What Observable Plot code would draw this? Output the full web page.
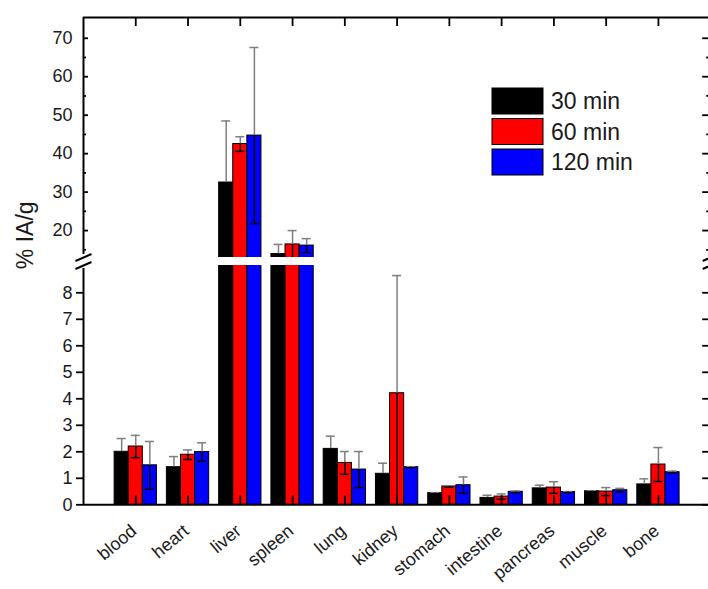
<!DOCTYPE html>
<html><head><meta charset="utf-8">
<script src="https://cdn.jsdelivr.net/npm/d3@7"></script>
<script src="https://cdn.jsdelivr.net/npm/@observablehq/plot@0.6"></script>
<style>
html,body{margin:0;padding:0;background:#fff;overflow:hidden;}
#chart{width:708px;height:589px;}
#chart svg{display:block;}
</style>
</head><body><div id="chart"></div>
<script>
// ---------- data ----------
const organs = ["blood","heart","liver","spleen","lung","kidney","stomach","intestine","pancreas","muscle","bone"];
const series = ["30 min","60 min","120 min"];
const seriesColors = ["#000000","#ff0000","#0000ff"];
const mean30  = [2.00, 1.42, 32.5, 13.9, 2.11, 1.17, 0.44, 0.26, 0.62, 0.51, 0.77];
const sd30    = [0.50, 0.40, 16.0, 2.5, 0.48, 0.40, 0.02, 0.10, 0.12, 0.02, 0.21];
const mean60  = [2.20, 1.89, 42.5, 16.4, 1.58, 4.21, 0.69, 0.31, 0.65, 0.50, 1.52];
const sd60    = [0.42, 0.18, 1.9, 3.6, 0.43, 4.44, 0.02, 0.10, 0.22, 0.15, 0.64];
const mean120 = [1.49, 1.99, 44.7, 16.1, 1.33, 1.42, 0.74, 0.49, 0.48, 0.55, 1.23];
const sd120   = [0.90, 0.35, 22.9, 1.8, 0.68, 0.02, 0.31, 0.03, 0.02, 0.07, 0.04];
const upperTicks = [20, 30, 40, 50, 60, 70];
const upperMinor = [15, 25, 35, 45, 55, 65];
const lowerTicks = [0, 1, 2, 3, 4, 5, 6, 7, 8];
const yTitle = "% IA/g";

// ---------- layout ----------
const W = 708, H = 589;
const pxLeft = 83, pxRight = 710.2, pxTop = 17, pxBottom = 504.3;
const pxGapLow = 265, pxGapHigh = 257;
const lowMax = 9.03, upMin = 13, upMax = 75.4;
const pxPerLow = (pxBottom - pxGapLow) / lowMax;          // px per unit, lower part
const pxPerUp = (pxGapHigh - pxTop) / (upMax - upMin);    // px per unit, upper part
const gapT = lowMax + (pxGapLow - pxGapHigh) / pxPerLow;  // display coord of upMin
// broken-axis transform: value -> display coordinate (in lower-part units)
function T(v) {
  if (v <= lowMax) return v;
  if (v >= upMin) return gapT + (v - upMin) * pxPerUp / pxPerLow;
  return lowMax + (v - lowMax) / (upMin - lowMax) * (gapT - lowMax);
}
const ux = 12 / (pxRight - pxLeft);   // x units per px
const uy = 1 / pxPerLow;              // display units per px
const bw = 14.1 * ux;                 // bar width
const cap = 4.5 * ux;                 // half cap width

const means = [mean30, mean60, mean120];
const sds = [sd30, sd60, sd120];
const rows = [];
organs.forEach((o, i) => {
  series.forEach((s, j) => {
    const v = means[j][i], e = sds[j][i];
    let lo = v - e, loCap = true;
    if (lo < 0) { lo = 0; loCap = false; }
    if (v >= upMin && lo < upMin) { lo = upMin; loCap = false; }
    rows.push({organ: o, series: s, j, v, e, lo, loCap, xc: i + 1 + (j - 1) * bw});
  });
});
const cats = organs.map((o, i) => i + 1);
const tTop = T(upMax), tLow = T(lowMax), tUp = T(upMin);

const font = "Liberation Sans, Arial, Helvetica, sans-serif";
const plot = Plot.plot({
  width: W, height: H,
  marginLeft: pxLeft, marginRight: 0, marginTop: pxTop, marginBottom: H - pxBottom,
  style: {fontFamily: font, color: "#000", background: "#fff", overflow: "visible"},
  x: {domain: [0, 12], range: [pxLeft, pxRight], axis: null},
  y: {domain: [0, tTop], range: [pxBottom, pxTop], axis: null},
  color: {domain: series, range: seriesColors},
  marks: [
    // bars
    Plot.rect(rows, {x1: d => d.xc - bw / 2, x2: d => d.xc + bw / 2, y1: 0, y2: d => T(d.v), fill: "series", stroke: "#000", strokeWidth: 1}),
    // axis break gap
    Plot.rect([0], {x1: 0, x2: 12, y1: tLow, y2: tUp, fill: "#fff"}),
    // error bars: upper part (gray)
    Plot.ruleX(rows, {x: "xc", y1: d => T(d.v), y2: d => T(d.v + d.e), stroke: "#7f7f7f", strokeWidth: 1.5}),
    Plot.ruleY(rows, {y: d => T(d.v + d.e), x1: d => d.xc - cap, x2: d => d.xc + cap, stroke: "#7f7f7f", strokeWidth: 1.5}),
    // error bars: lower part (black)
    Plot.ruleX(rows, {x: "xc", y1: d => T(d.lo), y2: d => T(d.v), stroke: "#000", strokeWidth: 1.5}),
    Plot.ruleY(rows.filter(d => d.loCap), {y: d => T(d.lo), x1: d => d.xc - cap, x2: d => d.xc + cap, stroke: "#000", strokeWidth: 1.5}),
    // x ticks (inward, bottom and top)
    Plot.ruleX(cats, {x: d => d, y1: 0, y2: 9 * uy, stroke: "#000", strokeWidth: 1.8}),
    Plot.ruleX(cats, {x: d => d, y1: tTop - 9 * uy, y2: tTop, stroke: "#000", strokeWidth: 1.8}),
    // frame
    Plot.ruleY([0], {x1: 0, x2: 12, stroke: "#000", strokeWidth: 2}),
    Plot.ruleY([tTop], {x1: 0, x2: 12, stroke: "#000", strokeWidth: 2}),
    Plot.ruleX([0, 12], {y1: 0, y2: tLow - 3 * uy, stroke: "#000", strokeWidth: 2}),
    Plot.ruleX([0, 12], {y1: tUp + 3 * uy, y2: tTop, stroke: "#000", strokeWidth: 2}),
    // left ticks
    Plot.ruleY(upperTicks, {y: d => T(d), x1: 0, x2: 5 * ux, stroke: "#000", strokeWidth: 1.8}),
    Plot.ruleY(upperMinor, {y: d => T(d), x1: 0, x2: 3 * ux, stroke: "#000", strokeWidth: 1.8}),
    Plot.ruleY(lowerTicks, {y: d => T(d), x1: -7 * ux, x2: 0, stroke: "#000", strokeWidth: 1.8}),
    // right ticks
    Plot.ruleY(upperTicks, {y: d => T(d), x1: 12 - 8 * ux, x2: 12, stroke: "#000", strokeWidth: 1.8}),
    Plot.ruleY(upperMinor, {y: d => T(d), x1: 12 - 4 * ux, x2: 12, stroke: "#000", strokeWidth: 1.8}),
    Plot.ruleY(lowerTicks, {y: d => T(d), x1: 12 - 8 * ux, x2: 12, stroke: "#000", strokeWidth: 1.8}),
    // axis break marks
    Plot.link([0, 12].flatMap(xv => [tLow, tUp].map(tv => ({xv, tv}))), {
      x1: d => d.xv - 8 * ux, x2: d => d.xv + 8 * ux,
      y1: d => d.tv - 3.5 * uy, y2: d => d.tv + 3.5 * uy,
      stroke: "#000", strokeWidth: 2
    }),
    // y tick labels
    Plot.text([...upperTicks, ...lowerTicks], {x: 0, y: d => T(d), text: d => String(d), textAnchor: "end", dx: -11, fontSize: 18, fill: "#1a1a1a"}),
    // x labels
    Plot.text(organs, {x: (d, i) => i + 1, frameAnchor: "bottom", text: d => d, dy: 28, dx: 2, rotate: -40, textAnchor: "end", fontSize: 18, fill: "#1a1a1a"}),
    // y title
    Plot.text([yTitle], {frameAnchor: "left", text: d => d, rotate: -90, dx: -58, dy: 8, fontSize: 23, fill: "#1a1a1a"})
  ]
});
document.getElementById("chart").appendChild(plot);

// legend (inside the frame, top right)
const svg = d3.select(plot);
const lg = svg.append("g").attr("text-anchor", "start");
series.forEach((s, j) => {
  const y0 = 88 + j * 30.5;
  lg.append("rect").attr("x", 492).attr("y", y0).attr("width", 51).attr("height", 26)
    .attr("fill", seriesColors[j]).attr("stroke", "#000").attr("stroke-width", 1);
  lg.append("text").attr("x", 551).attr("y", y0 + 13 + 8.3).attr("font-size", 23)
    .attr("font-family", font).attr("fill", "#1a1a1a").text(s);
});
</script>
</body></html>
